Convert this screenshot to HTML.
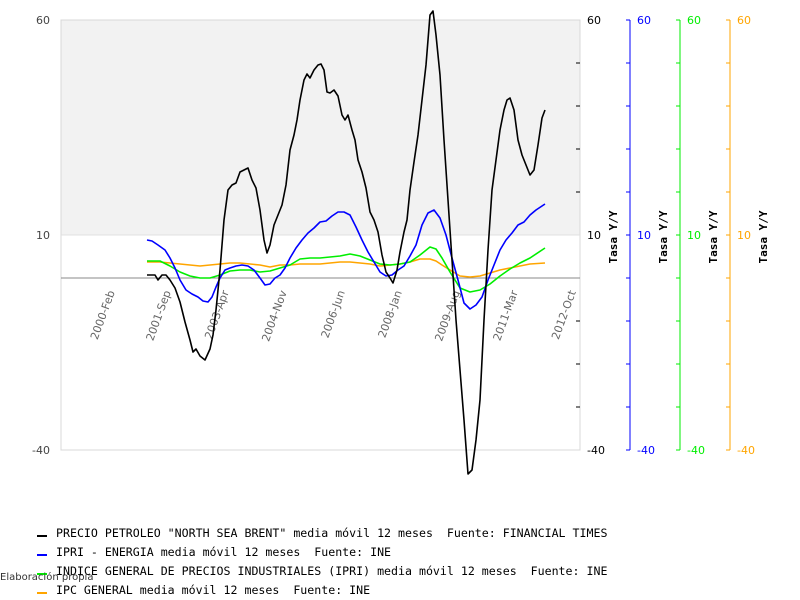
<!DOCTYPE html>
<html><head><meta charset="utf-8"><style>body{margin:0;background:#fff}svg{display:block}.lg text{white-space:pre}</style></head><body>
<svg width="800" height="600" xmlns="http://www.w3.org/2000/svg" font-family="DejaVu Sans, Liberation Sans, sans-serif">
<rect x="61" y="20" width="519" height="215" fill="#f2f2f2"/>
<rect x="61" y="20" width="519" height="430" fill="none" stroke="#d8d8d8"/>
<line x1="61" y1="235" x2="580" y2="235" stroke="#e0e0e0"/>
<line x1="61" y1="278" x2="580" y2="278" stroke="#888"/>
<g font-size="11" fill="#444" text-anchor="end">
<text x="50" y="24">60</text><text x="50" y="239">10</text><text x="50" y="454">-40</text></g>
<g stroke="#000"><path d="M576 63h4M576 106h4M576 149h4M576 192h4M576 321h4M576 364h4M576 407h4"/></g>
<g font-size="11"><text x="587" y="24">60</text><text x="587" y="239">10</text><text x="587" y="454">-40</text></g>
<g stroke="#0000ff" fill="none"><path d="M630 20v430M626 20h4M626 63h4M626 106h4M626 149h4M626 192h4M626 235h4M626 278h4M626 321h4M626 364h4M626 407h4M626 450h4"/></g>
<g font-size="11" fill="#0000ff"><text x="637" y="24">60</text><text x="637" y="239">10</text><text x="637" y="454">-40</text></g>
<g stroke="#00ee00" fill="none"><path d="M680 20v430M676 20h4M676 63h4M676 106h4M676 149h4M676 192h4M676 235h4M676 278h4M676 321h4M676 364h4M676 407h4M676 450h4"/></g>
<g font-size="11" fill="#00ee00"><text x="687" y="24">60</text><text x="687" y="239">10</text><text x="687" y="454">-40</text></g>
<g stroke="#ffa500" fill="none"><path d="M730 20v430M726 20h4M726 63h4M726 106h4M726 149h4M726 192h4M726 235h4M726 278h4M726 321h4M726 364h4M726 407h4M726 450h4"/></g>
<g font-size="11" fill="#ffa500"><text x="737" y="24">60</text><text x="737" y="239">10</text><text x="737" y="454">-40</text></g>
<g font-family="DejaVu Sans Mono, Liberation Mono, monospace" font-size="11" font-weight="bold" text-anchor="middle">
<text transform="translate(617,237) rotate(-90)">Tasa Y/Y</text>
<text transform="translate(667,237) rotate(-90)">Tasa Y/Y</text>
<text transform="translate(717,237) rotate(-90)">Tasa Y/Y</text>
<text transform="translate(767,237) rotate(-90)">Tasa Y/Y</text></g>
<g font-size="11" fill="#666" text-anchor="end">
<text transform="translate(115,292) rotate(-70)">2000-Feb</text>
<text transform="translate(171,292) rotate(-70)">2001-Sep</text>
<text transform="translate(229,292) rotate(-70)">2003-Apr</text>
<text transform="translate(287,292) rotate(-70)">2004-Nov</text>
<text transform="translate(345,292) rotate(-70)">2006-Jun</text>
<text transform="translate(402,292) rotate(-70)">2008-Jan</text>
<text transform="translate(460,292) rotate(-70)">2009-Aug</text>
<text transform="translate(518,292) rotate(-70)">2011-Mar</text>
<text transform="translate(576,292) rotate(-70)">2012-Oct</text></g>
<g fill="none" stroke-width="1.6" stroke-linejoin="round">
<polyline stroke="#ffa500" points="147,262 160,262 170,263 180,264 190,265 200,266 210,265 220,264 230,263 240,263 250,264 260,265 270,267 280,265 290,265 300,264 310,264 320,264 330,263 340,262 350,262 360,263 370,264 380,266 390,265 400,264 410,262 420,259 430,259 436,261 442,265 450,270 460,276 470,277 480,276 490,273 500,270 510,268 520,266 530,264 545,263"/>
<polyline stroke="#00ee00" points="147,261 160,261 170,266 180,272 190,276 200,278 210,278 220,275 230,271 240,270 250,270 260,272 270,271 280,268 290,265 300,259 310,258 320,258 330,257 340,256 350,254 360,256 370,260 380,264 390,265 400,264 410,262 420,255 430,247 436,249 442,258 450,272 460,288 470,292 480,290 490,284 500,276 510,269 520,263 530,258 545,248"/>
<polyline stroke="#0000ff" points="147,240 152,241 158,245 165,250 170,258 175,268 180,280 186,290 192,294 198,297 203,301 208,302 212,297 216,287 220,278 225,270 230,268 236,266 242,265 248,266 254,270 260,278 265,285 270,284 275,278 280,275 285,268 290,258 296,248 302,240 308,233 314,228 320,222 326,221 332,216 338,212 344,212 350,215 356,227 362,240 368,252 374,262 380,272 386,276 392,275 398,270 404,266 410,256 416,245 422,225 428,213 434,210 440,218 446,235 452,258 458,280 464,303 470,309 476,305 482,297 488,280 494,265 500,250 506,240 512,233 518,225 524,222 530,215 536,210 545,204"/>
<polyline stroke="#000" points="147,275 155,275 158,280 162,275 166,275 170,280 175,288 180,302 185,322 190,340 193,352 196,349 200,356 205,360 210,349 213,335 216,310 220,270 224,220 228,190 232,185 236,183 240,172 244,170 248,168 252,180 256,188 260,210 264,240 267,253 270,245 274,225 278,215 282,205 286,185 290,150 294,135 297,120 300,100 304,80 307,74 310,78 314,70 318,65 321,64 324,70 327,92 330,93 334,90 338,96 342,115 345,120 348,115 352,130 355,140 358,160 362,172 366,188 370,212 374,220 378,232 382,255 386,272 390,278 393,283 397,270 400,252 404,232 407,220 410,190 414,162 418,135 422,100 426,65 430,15 433,11 436,35 440,75 444,140 448,200 452,260 456,320 460,370 464,420 468,474 472,470 476,440 480,400 484,320 488,250 492,190 496,160 500,130 504,110 507,100 510,98 514,110 518,140 522,155 526,165 530,175 534,170 538,145 542,118 545,110"/>
</g>
<g stroke-width="2"><line x1="37" y1="536" x2="47" y2="536" stroke="#000"/><line x1="37" y1="555" x2="47" y2="555" stroke="#0000ff"/><line x1="37" y1="574" x2="47" y2="574" stroke="#00ee00"/><line x1="37" y1="593" x2="47" y2="593" stroke="#ffa500"/></g>
<g class="lg" font-family="DejaVu Sans Mono, Liberation Mono, monospace" font-size="11.6">
<text x="56" y="537">PRECIO PETROLEO "NORTH SEA BRENT" media móvil 12 meses&#160; Fuente: FINANCIAL TIMES</text>
<text x="56" y="556">IPRI - ENERGIA media móvil 12 meses&#160; Fuente: INE</text>
<text x="56" y="575">INDICE GENERAL DE PRECIOS INDUSTRIALES (IPRI) media móvil 12 meses&#160; Fuente: INE</text>
<text x="56" y="594">IPC GENERAL media móvil 12 meses&#160; Fuente: INE</text></g>
<text x="0" y="580" font-size="10" fill="#333">Elaboración propia</text>
</svg>
</body></html>
